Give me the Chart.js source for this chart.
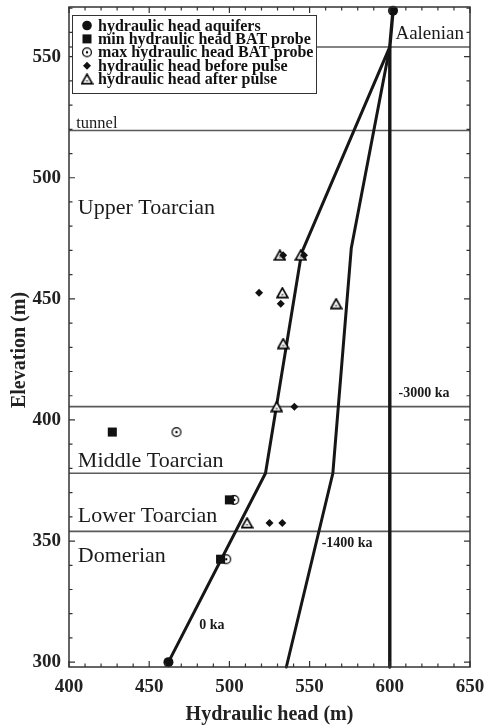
<!DOCTYPE html>
<html>
<head>
<meta charset="utf-8">
<script src="https://cdn.jsdelivr.net/npm/chart.js@4/dist/chart.umd.min.js"></script>
<style>
  html, body { margin: 0; padding: 0; background: #fff; }
  #wrap { width: 485px; height: 726px; }
</style>
</head>
<body>
<div id="wrap"><canvas id="chart" width="485" height="726"></canvas></div>
<script>
// tick labels
const xTicks = [400, 450, 500, 550, 600, 650];
const yTicks = [300, 350, 400, 450, 500, 550];

// measured points (hydraulic head m, elevation m)
const aquiferHead = [602, 462];
const aquiferElev = [569, 300];
const minBatHead = [427, 500, 494.5];
const minBatElev = [395, 367, 342.5];
const maxBatHead = [467, 503, 498];
const maxBatElev = [395, 367, 342.5];
const beforeHead = [533.5, 546.5, 518.5, 532, 540.5, 525, 533];
const beforeElev = [468, 468, 452.5, 448, 405.5, 357.5, 357.5];
const afterHead = [531.5, 544.5, 533, 566.5, 533.5, 529.5, 511];
const afterElev = [468, 468, 452.5, 448, 431.5, 405.5, 357.5];

// modelled profiles
const head0ka = [462, 522.5, 545, 600];
const elev0ka = [300, 378, 469, 554];
const head1400ka = [535.5, 564.5, 576, 600];
const elev1400ka = [298, 378, 471, 554];
const head3000ka = [602, 600, 600];
const elev3000ka = [569, 554, 298];

// formation boundaries
const boundaryElev = [554, 519.5, 405.5, 378, 354];

const serif = '"Liberation Serif", "DejaVu Serif", serif';
const pts = (xs, ys) => xs.map((x, i) => ({x: x, y: ys[i]}));

function triangleImg() {
  const c = document.createElement('canvas');
  c.width = 13; c.height = 12;
  const g = c.getContext('2d');
  g.beginPath();
  g.moveTo(6.5, 1.2); g.lineTo(11.8, 10.6); g.lineTo(1.2, 10.6); g.closePath();
  g.fillStyle = '#fff'; g.fill();
  g.lineWidth = 1.7; g.strokeStyle = '#000'; g.stroke();
  g.fillStyle = '#333';
  g.fillRect(5.5, 7.2, 2, 1.2);
  return c;
}
function circleDotImg() {
  const c = document.createElement('canvas');
  c.width = 12; c.height = 12;
  const g = c.getContext('2d');
  g.beginPath(); g.arc(6, 6, 4.4, 0, Math.PI * 2);
  g.fillStyle = '#fff'; g.fill();
  g.lineWidth = 1.2; g.strokeStyle = '#000'; g.stroke();
  g.beginPath(); g.arc(6, 6, 1.2, 0, Math.PI * 2);
  g.fillStyle = '#000'; g.fill();
  return c;
}
const triImg = triangleImg();
const cdImg = circleDotImg();

const markerSets = [
  {label: 'hydraulic head aquifers', head: aquiferHead, elev: aquiferElev, style: 'circle', r: 5},
  {label: 'min hydraulic head BAT probe', head: minBatHead, elev: minBatElev, style: 'rect', r: 6.4},
  {label: 'max hydraulic head BAT probe', head: maxBatHead, elev: maxBatElev, style: cdImg, r: 5},
  {label: 'hydraulic head before pulse', head: beforeHead, elev: beforeElev, style: 'rectRot', r: 4},
  {label: 'hydraulic head after pulse', head: afterHead, elev: afterElev, style: triImg, r: 5}
];
const drawOrder = [0, 1, 3, 2, 4]; // squares above the open circles

const datasets = [];
markerSets.forEach((m, i) => {
  datasets.push({
    label: m.label,
    data: pts(m.head, m.elev),
    pointStyle: m.style,
    pointRadius: m.r,
    backgroundColor: '#111',
    borderColor: '#111',
    borderWidth: 0,
    showLine: false,
    clip: false,
    order: drawOrder[i]
  });
});
[[head0ka, elev0ka, 3], [head1400ka, elev1400ka, 3], [head3000ka, elev3000ka, 3.4]].forEach(p => {
  datasets.push({
    data: pts(p[0], p[1]),
    showLine: true, pointRadius: 0,
    borderColor: '#161616', borderWidth: p[2],
    borderJoinStyle: 'round', borderCapStyle: 'round',
    clip: false, order: 10
  });
});
boundaryElev.forEach(e => {
  datasets.push({
    data: [{x: 400, y: e}, {x: 650, y: e}],
    showLine: true, pointRadius: 0,
    borderColor: '#5a5a5a', borderWidth: 1.6, order: 20
  });
});

const noPad = s => { s.paddingTop = 0; s.paddingBottom = 0; s.paddingLeft = 0; s.paddingRight = 0; };

const decor = {
  id: 'decor',
  afterDatasetsDraw(chart) {
    const ctx = chart.ctx;
    const a = chart.chartArea;
    const xs = chart.scales.x, ys = chart.scales.y;
    ctx.save();
    // frame
    ctx.strokeStyle = '#333';
    ctx.lineWidth = 1.5;
    ctx.strokeRect(a.left, a.top, a.right - a.left, a.bottom - a.top);
    // inward ticks on all sides
    ctx.lineWidth = 1.2;
    ctx.beginPath();
    for (let v = 400; v <= 650; v += 10) {
      const px = xs.getPixelForValue(v);
      const len = v % 50 === 0 ? 6 : 3.5;
      ctx.moveTo(px, a.bottom); ctx.lineTo(px, a.bottom - len);
      ctx.moveTo(px, a.top); ctx.lineTo(px, a.top + len);
    }
    for (let v = 300; v <= 570; v += 10) {
      const py = ys.getPixelForValue(v);
      const len = v % 50 === 0 ? 6 : 3.5;
      ctx.moveTo(a.left, py); ctx.lineTo(a.left + len, py);
      ctx.moveTo(a.right, py); ctx.lineTo(a.right - len, py);
    }
    ctx.stroke();

    // formation names
    ctx.fillStyle = '#1a1a1a';
    ctx.textBaseline = 'middle';
    ctx.textAlign = 'left';
    const put = (txt, hx, ey, font) => {
      ctx.font = font;
      ctx.fillText(txt, xs.getPixelForValue(hx), ys.getPixelForValue(ey));
    };
    put('Aalenian', 603.5, 559.5, '19px ' + serif);
    put('tunnel', 404.5, 522.5, '16.5px ' + serif);
    put('Upper Toarcian', 405.5, 487.5, '22px ' + serif);
    put('Middle Toarcian', 405.5, 383, '22px ' + serif);
    put('Lower Toarcian', 405.5, 360.3, '22px ' + serif);
    put('Domerian', 405.5, 343.8, '22px ' + serif);
    // profile ages
    put('-3000 ka', 605.5, 411, 'bold 14px ' + serif);
    put('-1400 ka', 557.5, 349, 'bold 14px ' + serif);
    put('0 ka', 481.2, 315, 'bold 14px ' + serif);

    // axis titles
    ctx.fillStyle = '#222';
    ctx.font = 'bold 20px ' + serif;
    ctx.textAlign = 'center';
    ctx.textBaseline = 'middle';
    ctx.fillText('Hydraulic head (m)', (a.left + a.right) / 2, 715);
    ctx.save();
    ctx.translate(25, 350);
    ctx.rotate(-Math.PI / 2);
    ctx.textBaseline = 'alphabetic';
    ctx.fillText('Elevation (m)', 0, 0);
    ctx.restore();
    ctx.restore();
  },
  afterDraw(chart) {
    // boxed legend inside the plot
    const ctx = chart.ctx;
    const bx = 72, by = 15, bw = 244, bh = 78;
    ctx.save();
    ctx.fillStyle = '#fff';
    ctx.fillRect(bx, by, bw, bh);
    ctx.strokeStyle = '#333';
    ctx.lineWidth = 1;
    ctx.strokeRect(bx + 0.5, by + 0.5, bw, bh);
    ctx.font = 'bold 16px ' + serif;
    ctx.textBaseline = 'middle';
    ctx.textAlign = 'left';
    markerSets.forEach((m, i) => {
      const cy = by + 10.5 + i * 13.4;
      const cx = 87;
      ctx.fillStyle = '#111';
      ctx.beginPath();
      if (m.style === 'circle') {
        ctx.arc(cx, cy, 4.8, 0, Math.PI * 2); ctx.fill();
      } else if (m.style === 'rect') {
        ctx.fillRect(cx - 4.5, cy - 4.5, 9, 9);
      } else if (m.style === 'rectRot') {
        ctx.moveTo(cx - 4, cy); ctx.lineTo(cx, cy - 4); ctx.lineTo(cx + 4, cy); ctx.lineTo(cx, cy + 4);
        ctx.closePath(); ctx.fill();
      } else {
        ctx.drawImage(m.style, cx - m.style.width / 2, cy - m.style.height / 2);
      }
      ctx.fillStyle = '#111';
      ctx.fillText(m.label, 98, cy + 1);
    });
    ctx.restore();
  }
};

new Chart(document.getElementById('chart').getContext('2d'), {
  type: 'scatter',
  data: {datasets: datasets},
  options: {
    responsive: false,
    animation: false,
    layout: {padding: {left: 0, right: 15, top: 7, bottom: 0}},
    plugins: {legend: {display: false}, tooltip: {enabled: false}},
    scales: {
      x: {
        type: 'linear', min: 400, max: 650,
        afterBuildTicks: s => { s.ticks = xTicks.map(v => ({value: v})); },
        afterFit: s => { s.height = 59; noPad(s); },
        grid: {display: false, drawTicks: false},
        border: {display: false},
        ticks: {font: {family: serif, size: 19, weight: 'bold'}, color: '#222', padding: 9, maxRotation: 0},
        title: {display: false}
      },
      y: {
        type: 'linear', min: 298, max: 570.5,
        afterBuildTicks: s => { s.ticks = yTicks.map(v => ({value: v})); },
        afterFit: s => { s.width = 69; noPad(s); },
        grid: {display: false, drawTicks: false},
        border: {display: false},
        ticks: {font: {family: serif, size: 19, weight: 'bold'}, color: '#222', padding: 8},
        title: {display: false}
      }
    }
  },
  plugins: [decor]
});
</script>
</body>
</html>
